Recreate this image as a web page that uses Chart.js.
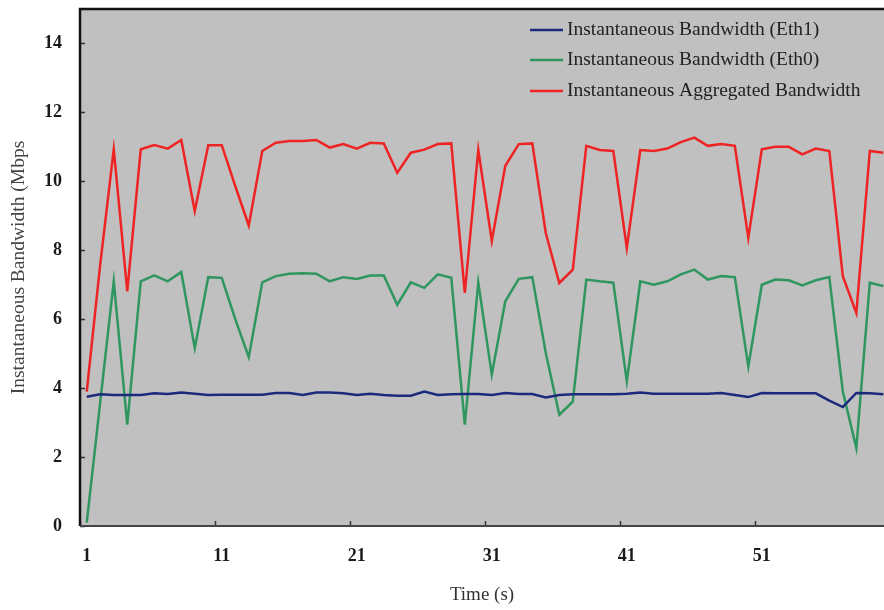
<!DOCTYPE html>
<html><head><meta charset="utf-8">
<script src="https://cdn.jsdelivr.net/npm/chart.js@4/dist/chart.umd.min.js"></script>
<style>html,body{margin:0;padding:0;background:#fff;overflow:hidden;}</style>
</head><body>
<canvas id="c" width="884" height="610"></canvas>
<script>
const timeSec = [1,2,3,4,5,6,7,8,9,10,11,12,13,14,15,16,17,18,19,20,21,22,23,24,25,26,27,28,29,30,31,32,33,34,35,36,37,38,39,40,41,42,43,44,45,46,47,48,49,50,51,52,53,54,55,56,57,58,59,60];
const eth1 = [3.75,3.82,3.80,3.80,3.80,3.85,3.83,3.87,3.84,3.80,3.81,3.81,3.81,3.81,3.86,3.86,3.80,3.87,3.87,3.85,3.80,3.84,3.80,3.78,3.78,3.90,3.80,3.82,3.83,3.83,3.80,3.86,3.83,3.83,3.73,3.80,3.82,3.82,3.82,3.82,3.84,3.87,3.84,3.84,3.84,3.84,3.84,3.86,3.80,3.74,3.86,3.85,3.85,3.85,3.85,3.64,3.45,3.86,3.85,3.82];
const eth0 = [0.1,3.6,7.1,2.94,7.1,7.27,7.1,7.37,5.16,7.22,7.2,6.0,4.9,7.07,7.25,7.32,7.33,7.32,7.1,7.22,7.17,7.27,7.27,6.42,7.07,6.91,7.3,7.2,2.94,7.06,4.39,6.52,7.17,7.22,5.02,3.23,3.61,7.15,7.1,7.06,4.2,7.1,7.0,7.1,7.3,7.44,7.15,7.25,7.22,4.63,7.0,7.15,7.13,6.98,7.13,7.22,3.9,2.26,7.06,6.96];
const aggregated = [3.9,7.6,10.93,6.81,10.93,11.05,10.95,11.2,9.14,11.05,11.05,9.86,8.72,10.88,11.12,11.17,11.17,11.2,10.98,11.08,10.95,11.12,11.1,10.25,10.83,10.92,11.08,11.1,6.76,10.91,8.27,10.45,11.08,11.1,8.5,7.05,7.44,11.03,10.91,10.88,8.07,10.91,10.88,10.95,11.14,11.27,11.03,11.08,11.03,8.36,10.93,11.0,11.0,10.78,10.95,10.88,7.25,6.18,10.88,10.83];
const xTickValues = [1,11,21,31,41,51];
const xTickLabels = ['1','11','21','31','41','51'];
const yTickValues = [0,2,4,6,8,10,12,14];
const seriesNames = ['Instantaneous Bandwidth (Eth1)','Instantaneous Bandwidth (Eth0)','Instantaneous Aggregated Bandwidth'];

const SERIF = "'Liberation Serif','Times New Roman',serif";
const toXY = arr => arr.map((v,i) => ({x: timeSec[i], y: v}));

const framePlugin = {
  id: 'frame',
  beforeDraw(chart) {
    const {ctx, chartArea: a} = chart;
    ctx.save();
    ctx.fillStyle = '#c0c0c0';
    ctx.fillRect(a.left, a.top, a.right - a.left, a.bottom - a.top);
    ctx.restore();
  },
  afterDatasetsDraw(chart) {
    const {ctx, chartArea: a, scales} = chart;
    ctx.save();
    ctx.strokeStyle = '#333';
    ctx.lineWidth = 1.5;
    ctx.beginPath();
    xTickValues.forEach(v => {
      const px = Math.round(scales.x.getPixelForValue(v - 0.5)) + 0.5;
      ctx.moveTo(px, a.bottom); ctx.lineTo(px, a.bottom - 5);
    });
    yTickValues.forEach(v => {
      const py = Math.round(scales.y.getPixelForValue(v)) + 0.5;
      ctx.moveTo(a.left, py); ctx.lineTo(a.left + 5, py);
    });
    ctx.stroke();
    ctx.lineWidth = 2.5;
    ctx.strokeStyle = '#111';
    ctx.beginPath();
    ctx.moveTo(a.left, a.bottom); ctx.lineTo(a.left, a.top); ctx.lineTo(a.right, a.top);
    ctx.stroke();
    ctx.strokeStyle = '#444';
    ctx.lineWidth = 2;
    ctx.beginPath();
    ctx.moveTo(a.left, a.bottom); ctx.lineTo(a.right, a.bottom);
    ctx.stroke();
    ctx.font = '19.5px ' + SERIF;
    ctx.textBaseline = 'middle';
    ctx.textAlign = 'left';
    const rows = [30, 60, 91];
    chart.data.datasets.forEach((ds, i) => {
      const y = rows[i];
      ctx.strokeStyle = ds.borderColor;
      ctx.lineWidth = 2.5;
      ctx.beginPath(); ctx.moveTo(530, y); ctx.lineTo(563, y); ctx.stroke();
      ctx.fillStyle = '#222';
      ctx.fillText(ds.label, 567, y);
    });
    ctx.restore();
  }
};

new Chart(document.getElementById('c'), {
  type: 'line',
  data: {
    datasets: [
      {label: seriesNames[0], data: toXY(eth1), borderColor: '#1c2a7c', borderWidth: 2.5, pointRadius: 0, tension: 0},
      {label: seriesNames[1], data: toXY(eth0), borderColor: '#2f9660', borderWidth: 2.5, pointRadius: 0, tension: 0},
      {label: seriesNames[2], data: toXY(aggregated), borderColor: '#ee2424', borderWidth: 2.5, pointRadius: 0, tension: 0}
    ]
  },
  options: {
    responsive: false,
    animation: false,
    devicePixelRatio: 1,
    layout: {padding: {top: 9, right: 0, left: 0, bottom: 0}},
    plugins: {legend: {display: false}, tooltip: {enabled: false}},
    scales: {
      x: {
        type: 'linear', min: 0.5, max: 60.05,
        afterFit: s => { s.height = 84; s.paddingLeft = 0; s.paddingRight = 0; },
        afterBuildTicks: s => { s.ticks = xTickValues.map(v => ({value: v})); },
        grid: {display: false, drawTicks: false},
        border: {display: false},
        ticks: {
          autoSkip: false, maxRotation: 0, padding: 20, color: '#1a1a1a',
          font: {family: SERIF, size: 18, weight: 'bold'},
          callback: v => xTickLabels[xTickValues.indexOf(v)]
        },
        title: {display: true, text: 'Time (s)', color: '#333', font: {family: SERIF, size: 19}, padding: {top: 0, bottom: 4}}
      },
      y: {
        type: 'linear', min: 0, max: 15,
        afterFit: s => { s.width = 80; s.paddingTop = 0; s.paddingBottom = 0; },
        afterBuildTicks: s => { s.ticks = yTickValues.map(v => ({value: v})); },
        grid: {display: false, drawTicks: false},
        border: {display: false},
        ticks: {padding: 18, color: '#1a1a1a', font: {family: SERIF, size: 18, weight: 'bold'}},
        title: {display: true, text: 'Instantaneous Bandwidth (Mbps', color: '#444', font: {family: SERIF, size: 19.5}, padding: {top: 7, bottom: 0}}
      }
    }
  },
  plugins: [framePlugin]
});
</script>
</body></html>
